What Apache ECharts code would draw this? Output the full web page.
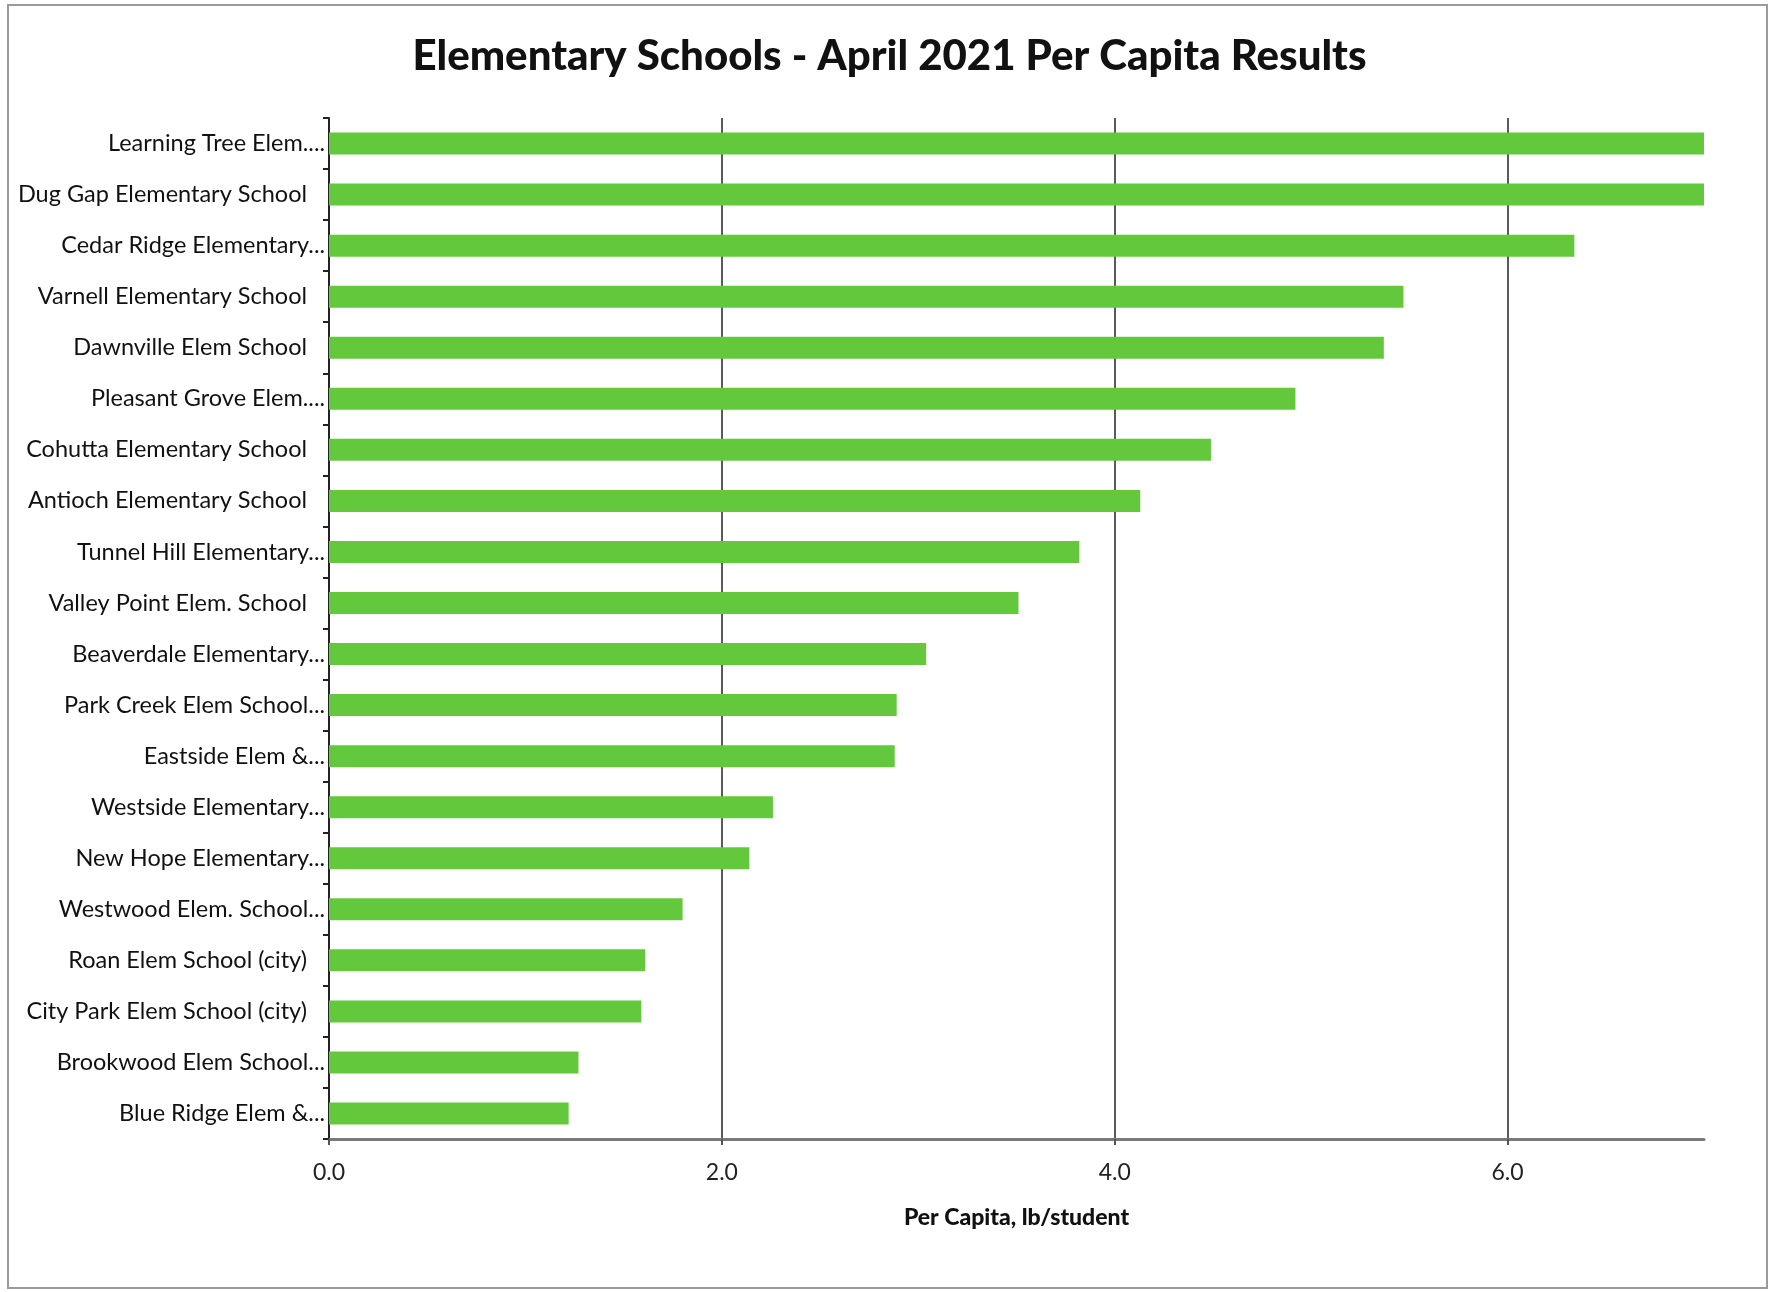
<!DOCTYPE html>
<html>
<head>
<meta charset="utf-8">
<script src="https://cdn.jsdelivr.net/npm/echarts@6/dist/echarts.min.js"></script>
<style>
html,body{margin:0;padding:0;background:#fff;}
#chart{width:1779px;height:1292px;}
</style>
</head>
<body>
<div id="chart"></div>
<script>
const chartTitle = 'Elementary Schools - April 2021 Per Capita Results';
const axisTitle = 'Per Capita, lb/student';
const schools = [
  'Learning Tree Elem....',
  'Dug Gap Elementary School',
  'Cedar Ridge Elementary...',
  'Varnell Elementary School',
  'Dawnville Elem School',
  'Pleasant Grove Elem....',
  'Cohutta Elementary School',
  'Antioch Elementary School',
  'Tunnel Hill Elementary...',
  'Valley Point Elem. School',
  'Beaverdale Elementary...',
  'Park Creek Elem School...',
  'Eastside Elem &...',
  'Westside Elementary...',
  'New Hope Elementary...',
  'Westwood Elem. School...',
  'Roan Elem School (city)',
  'City Park Elem School (city)',
  'Brookwood Elem School...',
  'Blue Ridge Elem &...'
];
const perCapita = [7.0, 7.0, 6.34, 5.47, 5.37, 4.92, 4.49, 4.13, 3.82, 3.51, 3.04, 2.89, 2.88, 2.26, 2.14, 1.80, 1.61, 1.59, 1.27, 1.22];
const xTicks = [0, 2, 4, 6];

const chart = echarts.init(document.getElementById('chart'));
chart.setOption({
  backgroundColor: '#fff',
  animation: false,
  graphic: [{
    type: 'rect',
    shape: {x: 8, y: 5, width: 1759, height: 1283},
    style: {fill: 'none', stroke: '#9a9a9a', lineWidth: 2},
    silent: true
  }],
  title: {
    text: chartTitle,
    left: 'center',
    top: 30,
    textStyle: {fontFamily: 'Lato', fontWeight: 900, fontSize: 42, color: '#111'}
  },
  grid: {left: 329, right: 75, top: 118, bottom: 153, containLabel: false},
  xAxis: {
    type: 'value',
    min: 0,
    max: 7,
    interval: 2,
    name: axisTitle,
    nameLocation: 'middle',
    nameGap: 67,
    nameTextStyle: {fontFamily: 'Lato', fontWeight: 900, fontSize: 23, color: '#111'},
    axisLine: {show: true, lineStyle: {color: '#7a7a7a', width: 3}},
    axisTick: {show: true, length: 6, customValues: xTicks, lineStyle: {color: '#555', width: 2}},
    splitLine: {show: true, showMinLine: false, lineStyle: {color: '#5a5a5a', width: 2}},
    axisLabel: {
      margin: 22,
      fontFamily: 'Lato',
      fontSize: 23,
      color: '#222',
      customValues: xTicks,
      formatter: function (v) { return xTicks.indexOf(v) >= 0 ? Number(v).toFixed(1) : ''; }
    }
  },
  yAxis: {
    type: 'category',
    data: schools,
    inverse: true,
    axisLine: {show: true, lineStyle: {color: '#222', width: 2}},
    axisTick: {show: true, length: 6, lineStyle: {color: '#222', width: 2}},
    splitLine: {show: false},
    axisLabel: {
      margin: 4,
      formatter: function (v) {
        return v.endsWith('...') ? '{t|' + v + '}' : '{f|' + v + '}';
      },
      rich: {
        t: {fontFamily: 'Lato', fontSize: 23.5, color: '#111', padding: [0, 0, 0, 0]},
        f: {fontFamily: 'Lato', fontSize: 23.5, color: '#111', padding: [0, 18, 0, 0]}
      }
    }
  },
  series: [{
    type: 'bar',
    data: perCapita,
    barWidth: 22,
    itemStyle: {color: '#64c83c'}
  }]
});
</script>
</body>
</html>
